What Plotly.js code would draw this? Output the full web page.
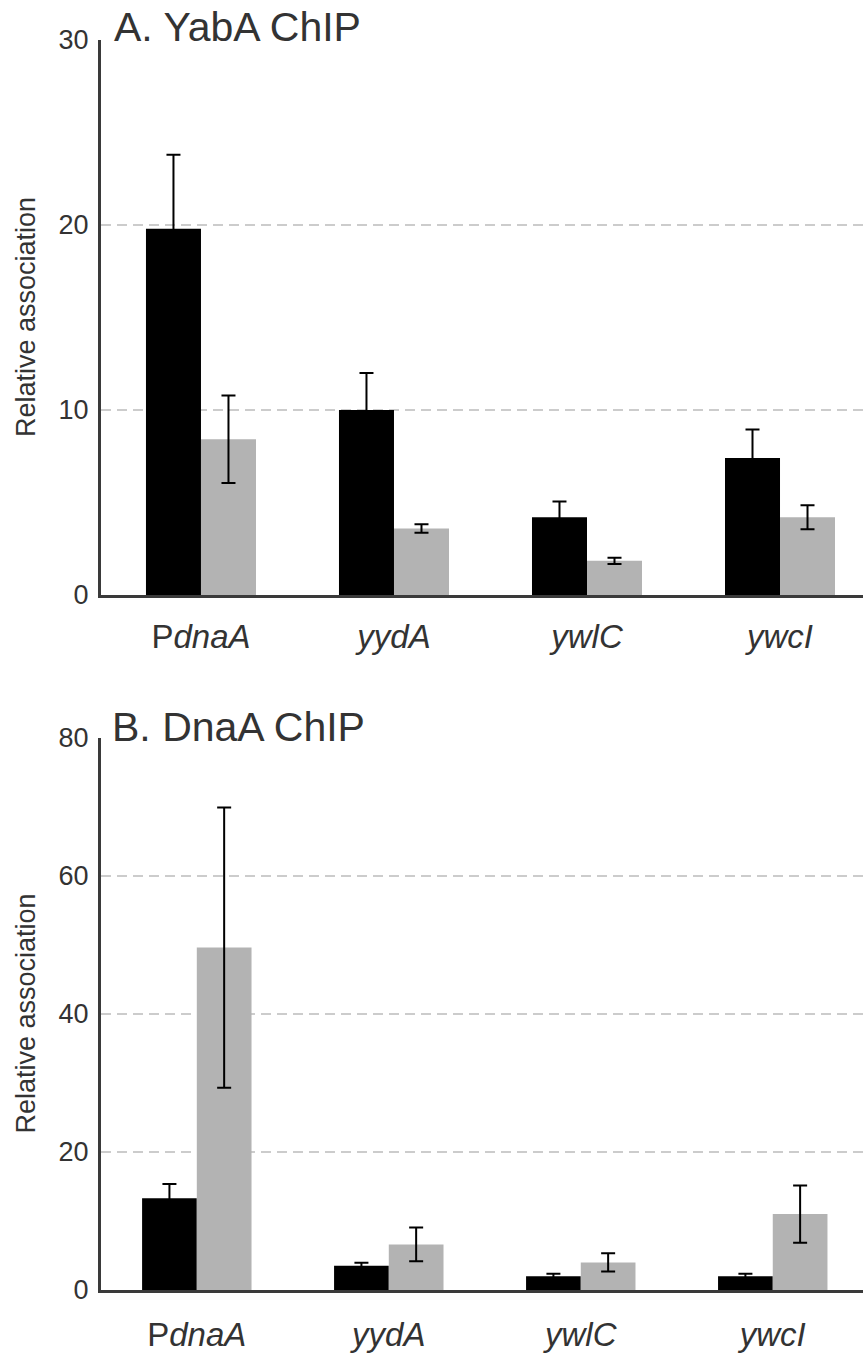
<!DOCTYPE html>
<html><head><meta charset="utf-8">
<script src="https://cdn.plot.ly/plotly-3.0.1.min.js"></script>
<style>html,body{margin:0;padding:0;background:#fff;} #chart{width:863px;height:1355px;}</style>
</head><body><div id="chart"></div>
<script>
const categories = ['PdnaA', 'yydA', 'ywlC', 'ywcI'];
const tickLabels = ['P<i>dnaA</i>', '<i>yydA</i>', '<i>ywlC</i>', '<i>ywcI</i>'];

// Panel A: YabA ChIP
const yabaBlack = [19.8, 10.0, 4.2, 7.4];
const yabaBlackErr = [4.0, 2.0, 0.85, 1.55];
const yabaGrey = [8.42, 3.6, 1.85, 4.2];
const yabaGreyErr = [2.37, 0.23, 0.17, 0.65];

// Panel B: DnaA ChIP
const dnaaBlack = [13.3, 3.5, 2.0, 2.0];
const dnaaBlackErr = [2.07, 0.45, 0.37, 0.37];
const dnaaGrey = [49.6, 6.6, 4.0, 11.0];
const dnaaGreyErr = [20.3, 2.45, 1.33, 4.15];

const yTicksA = [0, 10, 20, 30];
const yTicksB = [0, 20, 40, 60, 80];

const W = 863, H = 1355;
const px = v => v / W;
const py = v => 1 - v / H;
const FONT = 'Liberation Sans, Arial, Helvetica, sans-serif';
const TXT = '#333333';
const AXC = '#3a3a3a';

function bar(y, err, color, xa, ya) {
  return {
    type: 'bar', x: categories, y: y, xaxis: xa, yaxis: ya,
    marker: {color: color, line: {width: 0}},
    error_y: {type: 'data', array: err, visible: true, color: '#000', thickness: 2, width: 7},
    showlegend: false, hoverinfo: 'skip'
  };
}

const data = [
  bar(yabaBlack, yabaBlackErr, '#000000', 'x', 'y'),
  bar(yabaGrey, yabaGreyErr, '#b3b3b3', 'x', 'y'),
  bar(dnaaBlack, dnaaBlackErr, '#000000', 'x2', 'y2'),
  bar(dnaaGrey, dnaaGreyErr, '#b3b3b3', 'x2', 'y2')
];

function xax(anchor, range, ticklen) {
  return {
    anchor: anchor, domain: [px(101), 1], type: 'category', range: range,
    tickvals: categories, ticktext: tickLabels,
    showline: true, linecolor: AXC, linewidth: 3,
    ticks: 'outside', ticklen: ticklen, tickcolor: 'rgba(0,0,0,0)',
    tickfont: {family: FONT, size: 33, color: TXT},
    showgrid: false, zeroline: false, fixedrange: true
  };
}
function yax(anchor, domain, range, tickvals) {
  return {
    anchor: anchor, domain: domain, range: range, tickvals: tickvals,
    showline: true, linecolor: AXC, linewidth: 3,
    ticks: 'outside', ticklen: 4, tickcolor: 'rgba(0,0,0,0)',
    tickfont: {family: FONT, size: 27, color: TXT},
    showgrid: true, gridcolor: '#cccccc', gridwidth: 2, griddash: '10px,6px',
    zeroline: false, fixedrange: true
  };
}

const layout = {
  width: W, height: H,
  margin: {l: 0, r: 0, t: 0, b: 0},
  paper_bgcolor: '#fff', plot_bgcolor: '#fff',
  barmode: 'group', bargap: 0.43, bargroupgap: 0,
  xaxis: xax('y', [-0.518, 3.43], 10),
  yaxis: yax('x', [py(595), py(40)], [0, 30], yTicksA),
  xaxis2: xax('y2', [-0.499, 3.47], 13),
  yaxis2: yax('x2', [py(1290), py(737.7)], [0, 80], yTicksB),
  annotations: [
    {text: 'A. YabA ChIP', xref: 'paper', yref: 'paper', x: px(112), y: py(27), xanchor: 'left', yanchor: 'middle',
     showarrow: false, font: {family: FONT, size: 41, color: TXT}},
    {text: 'B. DnaA ChIP', xref: 'paper', yref: 'paper', x: px(110), y: py(727), xanchor: 'left', yanchor: 'middle',
     showarrow: false, font: {family: FONT, size: 41, color: TXT}},
    {text: 'Relative association', xref: 'paper', yref: 'paper', x: px(25.5), y: py(317.5), textangle: -90,
     xanchor: 'center', yanchor: 'middle', showarrow: false, font: {family: FONT, size: 27, color: TXT}},
    {text: 'Relative association', xref: 'paper', yref: 'paper', x: px(25.5), y: py(1014), textangle: -90,
     xanchor: 'center', yanchor: 'middle', showarrow: false, font: {family: FONT, size: 27, color: TXT}}
  ]
};

Plotly.newPlot('chart', data, layout, {displayModeBar: false, staticPlot: true});
</script>
</body></html>
